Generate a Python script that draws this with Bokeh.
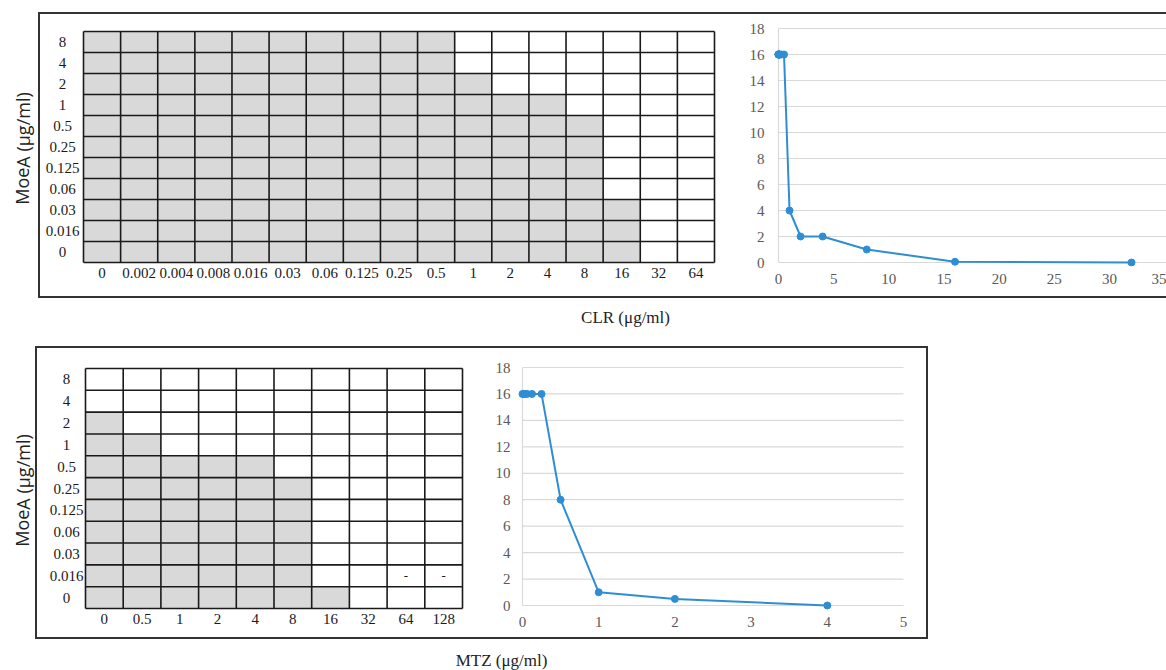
from bokeh.plotting import figure
from bokeh.models import Range1d, FixedTicker, CustomJSTickFormatter
from bokeh.layouts import row, column
from bokeh.core.properties import value
from bokeh.embed import file_html
from bokeh.resources import INLINE

# ---------------- data ----------------
moea_rows = ["8", "4", "2", "1", "0.5", "0.25", "0.125", "0.06", "0.03", "0.016", "0"]

clr_cols = ["0", "0.002", "0.004", "0.008", "0.016", "0.03", "0.06", "0.125",
            "0.25", "0.5", "1", "2", "4", "8", "16", "32", "64"]
# number of grey (growth) wells per CLR column, counted from MoeA = 0 upwards
clr_growth = [11, 11, 11, 11, 11, 11, 11, 11, 11, 11, 9, 8, 8, 7, 3, 0, 0]

mtz_cols = ["0", "0.5", "1", "2", "4", "8", "16", "32", "64", "128"]
mtz_growth = [9, 8, 7, 7, 7, 6, 1, 0, 0, 0]
mtz_dash_cols = ["64", "128"]
mtz_dash_row = "0.016"

clr_x = [0, 0.002, 0.004, 0.008, 0.016, 0.03, 0.06, 0.125, 0.25, 0.5, 1, 2, 4, 8, 16, 32]
clr_y = [16, 16, 16, 16, 16, 16, 16, 16, 16, 16, 4, 2, 2, 1, 0.06, 0]
clr_xticks = [0, 5, 10, 15, 20, 25, 30, 35]

mtz_x = [0, 0.016, 0.03, 0.06, 0.125, 0.25, 0.5, 1, 2, 4]
mtz_y = [16, 16, 16, 16, 16, 16, 8, 1, 0.5, 0]
mtz_xticks = [0, 1, 2, 3, 4, 5]

line_yticks = [0, 2, 4, 6, 8, 10, 12, 14, 16, 18]

y_title = "MoeA (μg/ml)"
clr_title = "CLR (μg/ml)"
mtz_title = "MTZ (μg/ml)"

# ---------------- style ----------------
SERIF = "Liberation Serif"
SANS = "Open Sans"
CELL_GRAY = "#d9d9d9"
INK = "#1a1a1a"
BLUE = "#2f8ed3"
GRIDC = "#d9d9d9"
TICKC = "#595959"
BORDER = "2px solid #333333"


def base_fig(w, h, xr, yr, **kw):
    p = figure(width=w, height=h, x_range=xr, y_range=yr, output_backend="svg",
               toolbar_location=None, **kw)
    p.outline_line_color = None
    p.grid.visible = False
    p.background_fill_color = "white"
    p.border_fill_color = "white"
    return p


def style_axis(a, standoff, color, font_size="15px"):
    a.axis_line_color = None
    a.major_tick_line_color = None
    a.minor_tick_line_color = None
    a.major_tick_out = 0
    a.major_tick_in = 0
    a.minor_tick_out = 0
    a.minor_tick_in = 0
    a.major_label_standoff = standoff
    a.major_label_text_font = SERIF
    a.major_label_text_font_size = font_size
    a.major_label_text_color = color


def label_fig(w, h, txt, cx, cy, font, size, angle=0.0, color="#222222"):
    p = base_fig(w, h, Range1d(0, w), Range1d(0, h), x_axis_location=None,
                 y_axis_location=None, min_border=0)
    if txt:
        p.text(x=[cx], y=[h - cy], text=[txt], angle=angle, text_align="center",
               text_baseline="middle", text_font=value(font), text_font_size=value(size),
               text_color=color)
    return p


def heatmap_fig(cols, growth, dash_cols, dash_row, fig_w, fig_h, gx, gy, gw, gh,
                row_label_cx, ft, fb, xstand, pad_r=3):
    # ft / fb: frame top / bottom in figure pixels (shared with the neighbour plot)
    nc, nr = len(cols), len(moea_rows)
    cw, rh = gw / nc, gh / nr
    frame_right = gx + gw + pad_r
    p = base_fig(fig_w, fig_h,
                 Range1d(-gx / cw, nc + pad_r / cw),
                 Range1d(nr + (fb - gy - gh) / rh, -(gy - ft) / rh),
                 x_axis_location="below", y_axis_location=None,
                 min_border_left=0, min_border_right=fig_w - frame_right,
                 min_border_top=ft, min_border_bottom=fig_h - fb)
    # cell fills
    left, right, top, bottom, fill = [], [], [], [], []
    for i, g in enumerate(growth):
        for j in range(nr):
            left.append(i)
            right.append(i + 1)
            top.append(j)
            bottom.append(j + 1)
            fill.append(CELL_GRAY if j >= nr - g else "white")
    p.quad(left=left, right=right, top=top, bottom=bottom, fill_color=fill,
           line_color=None)
    # grid lines
    vx = list(range(nc + 1))
    p.segment(x0=vx, x1=vx, y0=[0] * len(vx), y1=[nr] * len(vx), line_color=INK,
              line_width=1.6)
    hy = list(range(nr + 1))
    p.segment(x0=[0] * len(hy), x1=[nc] * len(hy), y0=hy, y1=hy, line_color=INK,
              line_width=1.6)
    # row labels
    rx = (row_label_cx - gx) / cw
    p.text(x=[rx] * nr, y=[j + 0.5 for j in range(nr)], text=moea_rows,
           text_align="center", text_baseline="middle", text_font=value(SERIF),
           text_font_size=value("15px"), text_color=INK)
    # dashes
    if dash_cols:
        dj = moea_rows.index(dash_row) + 0.5
        p.text(x=[cols.index(c) + 0.5 for c in dash_cols], y=[dj] * len(dash_cols),
               text=["-"] * len(dash_cols), text_align="center", text_baseline="middle",
               text_font=value(SERIF), text_font_size=value("13px"), text_color=INK)
    ax = p.xaxis[0]
    ax.ticker = FixedTicker(ticks=[i + 0.5 for i in range(nc)])
    ax.formatter = CustomJSTickFormatter(args=dict(labels=cols),
                                         code="return labels[Math.floor(tick)];")
    style_axis(ax, xstand, INK)
    return p


def line_fig(xs, ys, xticks, fig_w, fig_h, ax0, xa, ax1, xb, ay0, ya, ay1, yb,
             fl, fr, ft, fb, grid_to_edge, xstand, ystand):
    ppx = (ax1 - ax0) / (xb - xa)
    ppy = (ay0 - ay1) / (yb - ya)
    x_start = xa + (fl - ax0) / ppx
    x_end = xa + (fr - ax0) / ppx
    y_start = ya + (ay0 - fb) / ppy
    y_end = ya + (ay0 - ft) / ppy
    p = base_fig(fig_w, fig_h, Range1d(x_start, x_end), Range1d(y_start, y_end),
                 min_border_left=fl, min_border_right=fig_w - fr,
                 min_border_top=ft, min_border_bottom=fig_h - fb)
    gx_end = x_end if grid_to_edge else xticks[-1]
    n = len(line_yticks)
    p.segment(x0=[xticks[0]] * n, x1=[gx_end] * n, y0=line_yticks, y1=line_yticks,
              line_color=GRIDC, line_width=1.2)
    p.segment(x0=[xticks[0]], x1=[xticks[0]], y0=[line_yticks[0]], y1=[line_yticks[-1]],
              line_color=GRIDC, line_width=1.2)
    p.line(xs, ys, line_color=BLUE, line_width=2)
    p.scatter(xs, ys, size=7, fill_color=BLUE, line_color=BLUE)
    p.xaxis.ticker = FixedTicker(ticks=xticks)
    p.yaxis.ticker = FixedTicker(ticks=line_yticks)
    style_axis(p.xaxis[0], xstand, TICKC)
    style_axis(p.yaxis[0], ystand, TICKC)
    return p


# ---------------- top panel (figures start at page x=40, y=14) ----------------
TOP_FT, TOP_FB = 8, 252          # shared frame top / bottom (figure px)
figA = heatmap_fig(clr_cols, clr_growth, [], None, 705, 282,
                   gx=43, gy=17, gw=631, gh=231, row_label_cx=22,
                   ft=TOP_FT, fb=TOP_FB, xstand=1)
figB = line_fig(clr_x, clr_y, clr_xticks, 421, 282,
                ax0=33, xa=0, ax1=386, xb=32,
                ay0=248, ya=0, ay1=14, yb=18,
                fl=26, fr=421, ft=TOP_FT, fb=TOP_FB, grid_to_edge=True,
                xstand=7, ystand=7)
box1 = row(figA, figB, styles={"border-left": BORDER, "border-top": BORDER,
                               "border-bottom": BORDER})
lab1 = label_fig(38, 286, y_title, 22, 136, SANS, "18px", angle=1.5707963)

# ---------------- bottom panel (figures start at page x=37, y=348) ----------------
BOT_FT, BOT_FB = 13, 263
figC = heatmap_fig(mtz_cols, mtz_growth, mtz_dash_cols, mtz_dash_row, 453, 289,
                   gx=48, gy=20, gw=377, gh=240, row_label_cx=29,
                   ft=BOT_FT, fb=BOT_FB, xstand=2)
figD = line_fig(mtz_x, mtz_y, mtz_xticks, 436, 289,
                ax0=32, xa=0, ax1=413, xb=5,
                ay0=257, ya=0, ay1=19, yb=18,
                fl=25, fr=420, ft=BOT_FT, fb=BOT_FB, grid_to_edge=False,
                xstand=5, ystand=5)
box2 = row(figC, figD, styles={"border": BORDER})
lab2 = label_fig(35, 293, y_title, 22, 144, SANS, "18px", angle=1.5707963)

labCLR = label_fig(1166, 48, clr_title, 625, 19, SERIF, "17px")
labMTZ = label_fig(1166, 31, mtz_title, 501, 21, SERIF, "17px")

top_pad = label_fig(1166, 12, "", 0, 0, SERIF, "1px")

layout = column(top_pad, row(lab1, box1), labCLR, row(lab2, box2), labMTZ)

open("out.html", "w").write(file_html(layout, INLINE))
